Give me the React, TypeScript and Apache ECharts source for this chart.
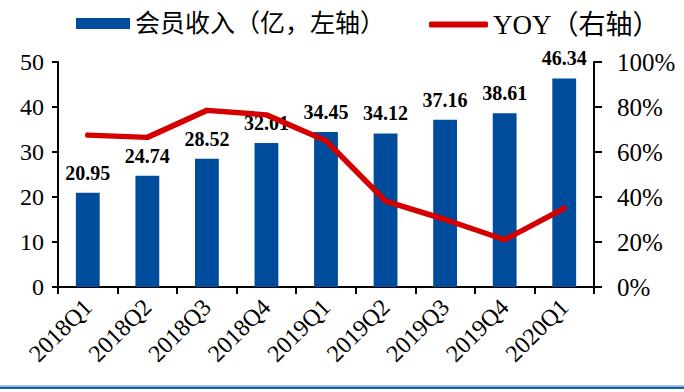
import React, { useEffect, useRef } from "react";
import * as echarts from "echarts";

const categories = ["2018Q1", "2018Q2", "2018Q3", "2018Q4", "2019Q1", "2019Q2", "2019Q3", "2019Q4", "2020Q1"];
const revenue = [20.95, 24.74, 28.52, 32.01, 34.45, 34.12, 37.16, 38.61, 46.34];
const yoy = [67.5, 66.5, 78.5, 76.5, 65, 38.2, 30, 21, 35];
const leftTicks = { min: 0, max: 50, interval: 10 };
const rightTicks = { min: 0, max: 100, interval: 20 };

const SERIF = "'Times New Roman', 'Liberation Serif', 'Noto Sans CJK SC', serif";
const BLUE = "#004c9c";
const RED = "#d40000";

export default function App() {
  const ref = useRef<HTMLDivElement>(null);
  useEffect(() => {
    if (!ref.current) return;
    const chart = echarts.init(ref.current, undefined, { renderer: "svg" });
    chart.setOption({
      animation: false,
      backgroundColor: "#fff",
      textStyle: { fontFamily: SERIF },
      grid: { left: 58, right: 90, top: 62, bottom: 105 },
      legend: [
        {
          data: [{ name: "会员收入（亿，左轴）", icon: "rect" }],
          left: 71,
          top: 6,
          itemWidth: 54,
          itemHeight: 11,
          itemGap: 4,
          textStyle: { fontFamily: SERIF, fontSize: 25, color: "#000" },
        },
        {
          data: [{ name: "YOY（右轴）", icon: "roundRect" }],
          left: 424,
          top: 6,
          itemWidth: 59,
          itemHeight: 6,
          itemStyle: { color: RED },
          textStyle: { fontFamily: SERIF, fontSize: 27, color: "#000" },
        },
      ],
      xAxis: {
        type: "category",
        data: categories,
        axisLine: { lineStyle: { color: "#000", width: 2 } },
        axisTick: { show: true, alignWithLabel: false, length: 7, lineStyle: { color: "#000", width: 2 } },
        axisLabel: { rotate: 45, fontSize: 24, color: "#000", fontFamily: SERIF, margin: 16, interval: 0 },
      },
      yAxis: [
        {
          type: "value",
          ...leftTicks,
          splitLine: { show: false },
          axisLine: { show: true, lineStyle: { color: "#000", width: 2 } },
          axisTick: { show: true, length: 6, lineStyle: { color: "#000", width: 2 } },
          axisLabel: { fontSize: 24, color: "#000", fontFamily: SERIF, margin: 14 },
        },
        {
          type: "value",
          ...rightTicks,
          position: "right",
          splitLine: { show: false },
          axisLine: { show: true, lineStyle: { color: "#000", width: 2 } },
          axisTick: { show: true, length: 8, lineStyle: { color: "#000", width: 2 } },
          axisLabel: { fontSize: 25, color: "#000", fontFamily: SERIF, margin: 23, formatter: "{value}%" },
        },
      ],
      series: [
        {
          name: "会员收入（亿，左轴）",
          type: "bar",
          data: revenue,
          barWidth: "40%",
          itemStyle: { color: BLUE },
          label: {
            show: true,
            position: "top",
            distance: 10,
            fontSize: 20,
            fontWeight: "bold",
            color: "#000",
            fontFamily: SERIF,
          },
          z: 2,
        },
        {
          name: "YOY（右轴）",
          type: "line",
          yAxisIndex: 1,
          data: yoy,
          symbol: "none",
          lineStyle: { color: RED, width: 5.5, cap: "round", join: "round" },
          itemStyle: { color: RED },
          z: 3,
        },
      ],
      graphic: [
        { type: "rect", shape: { x: 0, y: 385, width: 684, height: 1 }, style: { fill: "#a8c8e8" } },
        { type: "rect", shape: { x: 0, y: 386.5, width: 684, height: 2.5 }, style: { fill: "#1f5fa8" } },
      ],
    });
    return () => chart.dispose();
  }, []);
  return (
    <div
      ref={ref}
      style={{ position: "fixed", left: 0, top: 0, width: 684, height: 392 }}
    />
  );
}
